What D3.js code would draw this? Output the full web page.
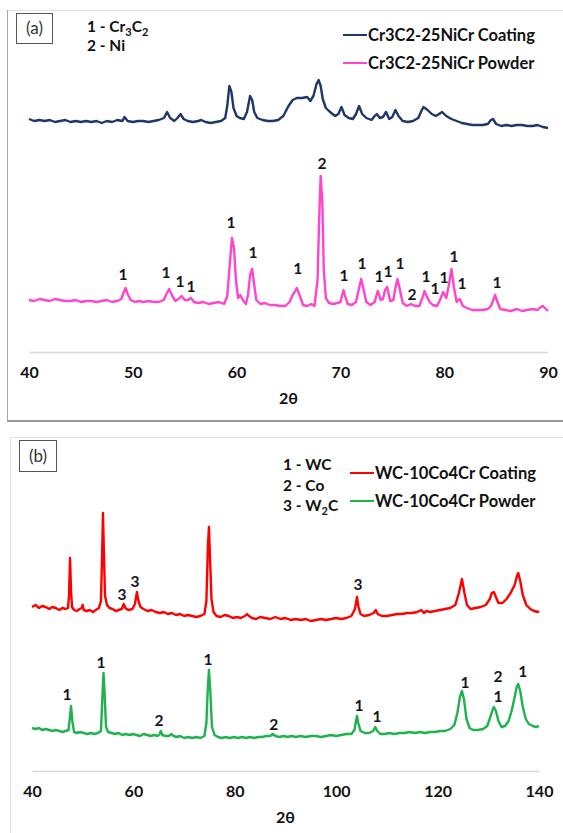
<!DOCTYPE html>
<html><head><meta charset="utf-8">
<script src="https://cdn.jsdelivr.net/npm/d3@7"></script>
<style>
html,body{margin:0;padding:0;background:#fff;}
svg{display:block;}
text{font-family:Lato,"Open Sans",sans-serif;}
</style></head>
<body>
<svg id="chart" width="563" height="833"></svg>
<script>
// ---------- DATA ----------
const ticksA = [40, 50, 60, 70, 80, 90];
const ticksB = [40, 60, 80, 100, 120, 140];
const axisTitle = "2θ";

const seriesNamesA = ["Cr3C2-25NiCr Coating", "Cr3C2-25NiCr Powder"];
const seriesNamesB = ["WC-10Co4Cr Coating", "WC-10Co4Cr Powder"];
const phasesA = [["1 - Cr", "3", "C", "2"], ["2 - Ni"]];
const phasesB = [["1 - WC"], ["2 - Co"], ["3 - W", "2", "C"]];

// [2θ, intensity (a.u.)]
const coatingA = [[40,233],[40.5,231],[41,232],[41.5,231],[42,232],[42.5,230],[43,231],[43.5,232],[44,230],[44.5,231],[45,230],[45.5,231],[46,230],[46.5,231],[47,229],[47.5,231],[48,230],[48.5,232],[49,231],[49.2,235],[49.5,231],[50,230],[50.5,231],[51,231],[51.5,230],[52,231],[52.5,232],[53,234],[53.3,240],[53.6,234],[54,231],[54.3,234],[54.6,238],[54.9,233],[55.3,231],[55.8,230],[56.3,231],[56.6,232],[57,230],[57.5,229],[58,230],[58.5,231],[58.9,234],[59.1,246],[59.3,266],[59.5,260],[59.7,244],[60,236],[60.3,234],[60.7,233],[61,240],[61.3,256],[61.5,252],[61.7,240],[62,234],[62.5,232],[63,231],[63.5,231],[64,232],[64.5,236],[65,246],[65.4,252],[65.8,254],[66.3,254],[66.8,255],[67.1,251],[67.4,256],[67.7,268],[67.9,272],[68.1,266],[68.3,253],[68.6,244],[69,240],[69.5,236],[69.8,238],[70.1,245],[70.4,237],[70.8,234],[71.2,233],[71.5,238],[71.8,246],[72.1,238],[72.5,234],[73,232],[73.3,236],[73.5,238],[73.8,234],[74.1,235],[74.4,240],[74.7,233],[75,235],[75.3,242],[75.6,236],[76,231],[76.5,230],[77,231],[77.5,234],[77.8,241],[78,245],[78.4,242],[78.8,238],[79.2,236],[79.5,238],[79.8,240],[80.2,236],[80.7,233],[81.2,231],[81.7,229],[82.2,228],[82.7,227],[83.2,227],[83.7,227],[84.2,228],[84.5,232],[84.7,233],[85,228],[85.5,226],[86,227],[86.5,226],[87,227],[87.5,227],[88,226],[88.5,226],[89,227],[89.5,225],[90,224]];

const powderA = [[40,52],[40.5,51],[41,53],[41.5,52],[42,51],[42.5,53],[43,52],[43.5,51],[44,51],[44.5,52],[45,50],[45.5,51],[46,51],[46.5,50],[47,51],[47.5,52],[48,50],[48.5,51],[48.9,53],[49.1,59],[49.3,64],[49.5,58],[49.8,52],[50.2,50],[50.6,51],[51,50],[51.5,51],[52,50],[52.5,50],[53,52],[53.2,57],[53.5,63],[53.8,56],[54.1,51],[54.4,53],[54.7,56],[55,52],[55.3,52],[55.6,54],[55.9,50],[56.3,49],[56.8,50],[57.3,48],[57.8,49],[58.3,50],[58.8,48],[59.1,56],[59.3,82],[59.55,114],[59.75,104],[59.95,70],[60.15,54],[60.35,57],[60.6,52],[60.9,48],[61.1,57],[61.3,77],[61.5,83],[61.7,67],[61.9,52],[62.3,48],[62.7,49],[63.2,47],[63.7,47],[64.2,46],[64.7,46],[65.1,50],[65.4,57],[65.6,60],[65.8,64],[66.1,56],[66.4,47],[66.8,46],[67.2,48],[67.5,46],[67.8,72],[67.95,132],[68.1,176],[68.25,152],[68.4,82],[68.6,54],[68.9,49],[69.3,48],[69.7,49],[70,50],[70.2,58],[70.3,62],[70.45,56],[70.7,48],[71.1,47],[71.5,50],[71.8,64],[72,73],[72.2,64],[72.5,50],[72.9,47],[73.3,50],[73.6,61],[73.9,52],[74.1,53],[74.3,62],[74.5,65],[74.8,51],[75.1,52],[75.3,64],[75.5,73],[75.7,64],[76,49],[76.4,46],[76.8,48],[77.2,46],[77.6,46],[77.9,54],[78.1,61],[78.3,56],[78.6,50],[78.9,47],[79.3,46],[79.6,52],[79.9,60],[80.2,54],[80.45,67],[80.7,83],[80.95,64],[81.2,50],[81.5,53],[81.8,46],[82.2,44],[82.7,42],[83.2,42],[83.7,42],[84.2,43],[84.5,46],[84.7,51],[84.9,57],[85.1,51],[85.4,43],[85.9,42],[86.4,41],[87,43],[87.5,41],[88,42],[88.5,43],[89,42],[89.3,45],[89.5,46],[89.8,43],[90,41]];

const coatingB = [[40,164],[40.7,166],[41.4,163],[42,165],[42.7,164],[43.4,162],[44,164],[44.7,163],[45.4,161],[46,163],[46.6,162],[47.1,163],[47.3,175],[47.5,213],[47.7,180],[47.9,164],[48.3,161],[48.8,160],[49.4,162],[49.8,163],[50,166],[50.2,161],[50.8,160],[51.4,161],[52,159],[52.6,161],[53.2,163],[53.6,170],[53.85,220],[54,258],[54.15,225],[54.4,175],[54.8,166],[55.3,163],[55.9,162],[56.5,160],[57.1,161],[57.7,162],[58.1,167],[58.4,163],[59,161],[59.8,162],[60.3,167],[60.7,179],[61,170],[61.4,164],[62,162],[62.8,160],[63.6,161],[64.4,159],[65.2,158],[66,159],[66.8,157],[67.6,158],[68.4,156],[69.2,157],[70,155],[70.8,156],[71.6,155],[72.4,154],[73.2,155],[74,157],[74.4,170],[74.7,225],[74.9,244],[75.1,215],[75.4,172],[75.8,159],[76.4,155],[77.2,154],[78,156],[78.8,155],[79.6,153],[80.4,154],[81.2,153],[82,155],[82.4,157],[82.8,155],[83.4,153],[84.2,152],[85,154],[86,153],[87,152],[88,154],[89,152],[90,153],[91,151],[92,152],[93,151],[94,152],[95,150],[96,151],[97,152],[98,151],[99,152],[100,153],[101,152],[102,153],[103,155],[103.7,162],[104.1,174],[104.4,164],[104.8,157],[105.5,155],[106.5,156],[107.4,158],[107.8,161],[108.2,157],[109,155],[110,155],[111,156],[112,157],[113,157],[114,158],[115,158],[116,159],[116.8,161],[117.3,158],[117.8,160],[118.5,159],[119.5,160],[120.5,161],[121.5,162],[122.5,163],[123.5,166],[124.2,178],[124.8,192],[125.3,178],[125.8,166],[126.5,162],[127.5,163],[128.5,164],[129.5,166],[130.3,172],[130.7,178],[131.1,179],[131.5,174],[132,168],[132.8,168],[133.6,172],[134.4,178],[135.2,186],[135.6,194],[135.9,198],[136.3,190],[136.8,176],[137.5,166],[138.3,162],[139,160],[139.8,159],[140,160]];

const powderB = [[40,43],[40.7,42],[41.4,43],[42,41],[42.7,42],[43.4,41],[44,40],[44.7,41],[45.4,40],[46,39],[46.6,40],[47.2,41],[47.45,52],[47.7,65],[47.95,50],[48.3,39],[48.9,38],[49.5,39],[50.2,38],[50.9,37],[51.6,38],[52.3,37],[53,38],[53.6,40],[53.85,70],[54.1,98],[54.3,80],[54.6,44],[55,39],[55.7,38],[56.4,37],[57.1,38],[57.8,36],[58.5,37],[59.2,36],[59.9,37],[60.6,36],[61.3,35],[62,37],[62.7,36],[63.4,35],[64.1,36],[64.8,35],[65.2,37],[65.4,40],[65.7,36],[66.3,35],[67,35],[67.5,37],[67.9,35],[68.5,34],[69.2,35],[70,33],[70.8,34],[71.6,33],[72.4,34],[73.2,33],[74,35],[74.4,48],[74.65,80],[74.9,101],[75.15,82],[75.5,44],[76,36],[76.7,34],[77.4,33],[78.2,34],[79,33],[79.8,34],[80.6,33],[81.4,34],[82.2,33],[83,34],[83.8,33],[84.6,34],[85.4,34],[86.2,35],[87,35],[87.5,37],[88,35],[88.8,34],[89.6,35],[90.4,34],[91.2,35],[92,34],[93,35],[94,34],[95,35],[96,35],[97,34],[98,35],[99,36],[100,35],[101,36],[102,37],[103,37],[103.6,41],[103.9,50],[104.1,55],[104.35,48],[104.8,40],[105.6,38],[106.5,38],[107.3,40],[107.7,44],[108.1,40],[108.7,37],[109.6,37],[110.5,38],[111.5,37],[112.5,38],[113.5,38],[114.5,39],[115.5,38],[116.5,39],[117.5,38],[118.5,39],[119.5,39],[120.5,40],[121.5,40],[122.5,42],[123.3,46],[123.9,58],[124.4,74],[124.8,80],[125.2,72],[125.7,52],[126.3,43],[127,41],[128,41],[129,42],[129.8,45],[130.4,54],[130.9,62],[131.1,64],[131.5,60],[132,50],[132.6,44],[133.3,45],[134,50],[134.6,60],[135.2,74],[135.6,84],[135.9,87],[136.3,80],[136.8,64],[137.4,52],[138,47],[138.8,45],[139.4,44],[140,45]];

// peak annotations [2θ, intensity, label]
const peakLabelsA = [[49.06,77,"1"],[53.2,79,"1"],[54.55,70,"1"],[55.6,65,"1"],[59.46,129,"1"],[61.58,99,"1"],[65.9,83,"1"],[68.23,188,"2"],[70.35,76,"1"],[72.08,88,"1"],[73.72,75,"1"],[74.59,80,"1"],[75.74,88,"1"],[76.9,57,"2"],[78.25,75,"1"],[79.11,63,"1"],[79.98,74,"1"],[80.94,95,"1"],[81.71,68,"1"],[85.09,69,"1"]];
const peakLabelsB = [[57.75,176,"3"],[60.3,189,"3"],[104.3,186,"3"],[46.9,76,"1"],[53.6,108,"1"],[65.05,50,"2"],[74.7,111,"1"],[87.7,46,"2"],[104.5,65,"1"],[108.05,54,"1"],[125.4,88,"1"],[131.9,94,"2"],[131.9,74,"1"],[136.8,99,"1"]];

// ---------- DRAW ----------
const svg = d3.select("#chart");
const FONT = 'Lato, "Open Sans", sans-serif';
const colors = {coatA:"#1f3668", powA:"#ff45cc", coatB:"#ff0000", powB:"#1fb24e"};

// panel frames
svg.append("line").attr("x1",7).attr("x2",563).attr("y1",10.5).attr("y2",10.5).attr("stroke","#e2e2e2");
svg.append("line").attr("x1",7.5).attr("x2",7.5).attr("y1",10).attr("y2",421).attr("stroke","#a8a8a8");
svg.append("line").attr("x1",7).attr("x2",563).attr("y1",421).attr("y2",421).attr("stroke","#999").attr("stroke-width",2);
svg.append("line").attr("x1",10).attr("x2",563).attr("y1",437.5).attr("y2",437.5).attr("stroke","#e2e2e2");
svg.append("line").attr("x1",10.5).attr("x2",10.5).attr("y1",437).attr("y2",833).attr("stroke","#e2e2e2");

function panel(cfg){
  const x = d3.scaleLinear().domain(cfg.xDomain).range(cfg.xRange);
  const y = d3.scaleLinear().domain([0, cfg.yMax]).range([cfg.axisY, cfg.axisY - cfg.yMax]);
  const g = svg.append("g");
  const ax = g.append("g").attr("transform",`translate(0,${cfg.axisY})`)
    .call(d3.axisBottom(x).tickValues(cfg.ticks).tickSize(0).tickPadding(15).tickFormat(d3.format("d")));
  ax.select(".domain").attr("stroke","#d9d9d9").attr("stroke-width",1.5);
  ax.selectAll("text").attr("font-family",FONT).attr("font-weight",700).attr("font-size",16).attr("fill","#111");
  g.append("text").attr("x",(cfg.xRange[0]+cfg.xRange[1])/2).attr("y",cfg.axisY+52)
    .attr("text-anchor","middle").attr("font-family",FONT).attr("font-weight",700).attr("font-size",16).attr("fill","#111").text(axisTitle);
  const line = d3.line().x(d=>x(d[0])).y(d=>y(d[1]));
  cfg.series.forEach(s=>{
    g.append("path").datum(s.data).attr("d",line).attr("fill","none")
      .attr("stroke",s.color).attr("stroke-width",2.4).attr("stroke-linejoin","round");
  });
  g.selectAll("text.pk").data(cfg.labels).join("text").attr("class","pk")
    .attr("x",d=>x(d[0])).attr("y",d=>y(d[1])).attr("dy","0.35em").attr("text-anchor","middle")
    .attr("font-family",FONT).attr("font-weight",700).attr("font-size",15.5).attr("fill","#151520").text(d=>d[2]);
  // panel tag
  g.append("rect").attr("x",cfg.tag.x).attr("y",cfg.tag.y).attr("width",cfg.tag.w).attr("height",cfg.tag.h)
    .attr("fill","#fff").attr("stroke","#555").attr("stroke-width",1);
  g.append("text").attr("x",cfg.tag.x+cfg.tag.w/2).attr("y",cfg.tag.y+cfg.tag.h/2).attr("dy","0.35em")
    .attr("text-anchor","middle").attr("font-family",FONT).attr("font-size",17).attr("fill","#333").text(cfg.tag.t);
  // phase legend
  cfg.phases.forEach((p,i)=>{
    const t = g.append("text").attr("x",cfg.phaseX).attr("y",cfg.phaseY + i*cfg.phaseDy).attr("dy","0.35em")
      .attr("font-family",FONT).attr("font-weight",700).attr("font-size",15.5).attr("fill","#111");
    p.forEach((part,j)=>{
      const sub = j%2===1;
      t.append("tspan").text(part).attr("font-size",sub?11:15.5).attr("dy", sub?4:(j>0?-4:null));
    });
  });
  // series legend
  cfg.series.forEach((s,i)=>{
    const ly = cfg.legY + i*cfg.legDy;
    g.append("line").attr("x1",cfg.legX).attr("x2",cfg.legX+24).attr("y1",ly).attr("y2",ly).attr("stroke",s.color).attr("stroke-width",2);
    g.append("text").attr("x",cfg.legX+25).attr("y",ly).attr("dy","0.35em").attr("font-family",FONT)
      .attr("font-weight",700).attr("font-size",16.5).attr("fill","#111").text(s.name);
  });
}

panel({xDomain:[40,90], xRange:[29,548], axisY:352, yMax:340, ticks:ticksA,
  series:[{data:coatingA,color:colors.coatA,name:seriesNamesA[0]},{data:powderA,color:colors.powA,name:seriesNamesA[1]}],
  labels:peakLabelsA, tag:{x:16.5,y:13.5,w:36,h:30,t:"(a)"},
  phases:phasesA, phaseX:87, phaseY:27, phaseDy:19, legX:343, legY:35, legDy:28});

panel({xDomain:[40,140], xRange:[32,539], axisY:771, yMax:334, ticks:ticksB,
  series:[{data:coatingB,color:colors.coatB,name:seriesNamesB[0]},{data:powderB,color:colors.powB,name:seriesNamesB[1]}],
  labels:peakLabelsB, tag:{x:19.5,y:440.5,w:37,h:31,t:"(b)"},
  phases:phasesB, phaseX:283, phaseY:465, phaseDy:20.5, legX:350, legY:473, legDy:28});
</script>
</body></html>
